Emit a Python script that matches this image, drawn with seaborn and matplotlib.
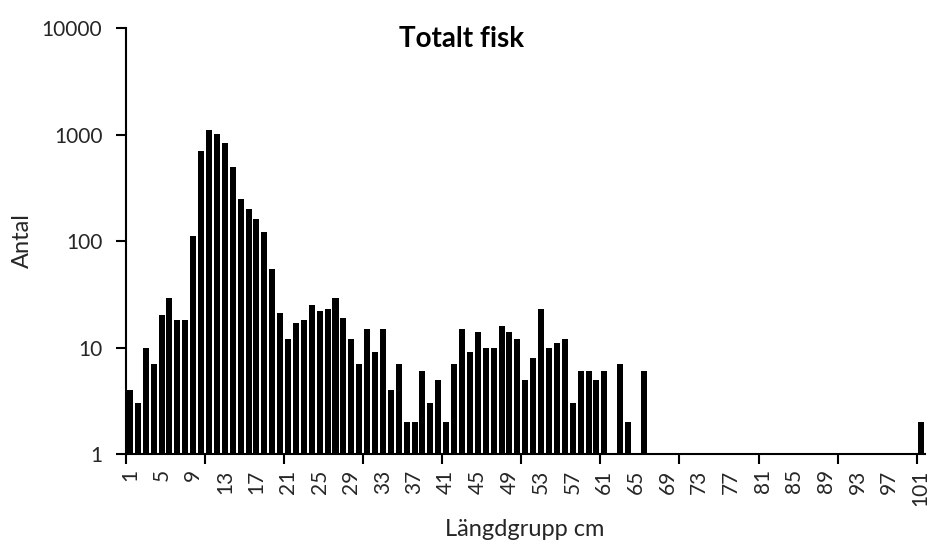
import matplotlib
matplotlib.use("Agg")
import matplotlib.pyplot as plt
import seaborn as sns
import numpy as np
import pandas as pd

# Length groups (cm) and number of fish per group
length_groups = list(range(1, 102))
counts_1_to_66 = [
    4, 3, 10, 7, 20, 29, 18, 18, 112, 700,
    1110, 1020, 840, 500, 250, 198, 162, 121, 55, 21,
    12, 17, 18, 25, 22, 23, 29, 19, 12, 7,
    15, 9, 15, 4, 7, 2, 2, 6, 3, 5,
    2, 7, 15, 9, 14, 10, 10, 16, 14, 12,
    5, 8, 23, 10, 11, 12, 3, 6, 6, 5,
    6, 0, 7, 2, 0, 6,
]
counts_67_to_101 = [0] * 34 + [2]
counts = counts_1_to_66 + counts_67_to_101

tick_label_groups = list(range(1, 102, 4))

df = pd.DataFrame({"group": [str(g) for g in length_groups], "antal": counts})

sns.set_theme(style="white")
plt.rcParams["font.family"] = ["Lato", "DejaVu Sans"]

fig = plt.figure(figsize=(9.33, 5.44), dpi=100)
ax = fig.add_axes([0.135, 0.1654, 0.856, 0.7831])

sns.barplot(data=df, x="group", y="antal", order=df["group"].tolist(),
            color="black", saturation=1, width=0.76, ax=ax)
for p in ax.patches:
    p.set_edgecolor("none")

ax.set_yscale("log")
ax.set_ylim(1, 10000)
ax.set_yticks([1, 10, 100, 1000, 10000])
ax.set_yticklabels(["1", "10", "100", "1000", "10000"])
ax.yaxis.set_minor_locator(matplotlib.ticker.NullLocator())

ax.set_xlim(-0.5, len(length_groups) - 0.5)
label_pos = [length_groups.index(g) for g in tick_label_groups]
ax.set_xticks(label_pos)
ax.set_xticklabels([str(g) for g in tick_label_groups], rotation=90)
ax.set_xticks(np.arange(-0.5, len(length_groups), 10), minor=True)

text_color = "#262626"
ax.tick_params(axis="x", which="major", length=0, pad=11, labelsize=15, colors=text_color)
ax.tick_params(axis="x", which="minor", length=7, width=1.5, direction="out", color="black", bottom=True)
ax.tick_params(axis="y", which="major", length=7, width=1.5, direction="out", color="black",
               labelsize=15, labelcolor=text_color, left=True, pad=10)

for side in ["top", "right"]:
    ax.spines[side].set_visible(False)
for side in ["left", "bottom"]:
    ax.spines[side].set_color("black")
    ax.spines[side].set_linewidth(1.5)

ax.set_xlabel("")
ax.set_ylabel("")
fig.text(462 / 933, 1 - 39 / 544, "Totalt fisk", ha="center", va="center",
         fontsize=20, fontweight="bold", color="black")
fig.text(525 / 933, 1 - 530 / 544, "Längdgrupp cm", ha="center", va="center",
         fontsize=17, color=text_color)
fig.text(22 / 933, 1 - 241 / 544, "Antal", ha="center", va="center",
         rotation=90, fontsize=17, color=text_color)

fig.savefig("out.png", dpi=100, facecolor="white")
